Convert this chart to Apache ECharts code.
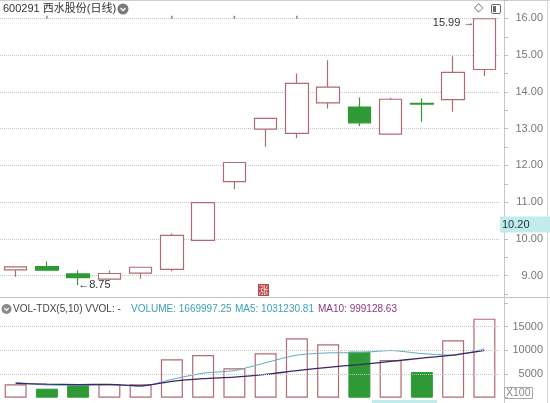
<!DOCTYPE html>
<html><head><meta charset="utf-8">
<script src="https://cdn.jsdelivr.net/npm/echarts@6/dist/echarts.min.js"></script>
<style>html,body{margin:0;padding:0;background:#fff}#c{width:550px;height:403px}</style>
</head><body><div id="c"></div>
<script>
// ---- data ----
const categories = ['d01','d02','d03','d04','d05','d06','d07','d08','d09','d10','d11','d12','d13','d14','d15','d16'];
const openP  = [9.16, 9.25, 9.05, 8.91, 9.07, 9.17, 9.96, 11.56, 12.99, 12.87, 13.70, 13.59, 12.85, 13.69, 13.79, 14.61];
const closeP = [9.24, 9.15, 8.95, 9.06, 9.23, 10.10, 10.99, 12.08, 13.28, 14.23, 14.13, 13.16, 13.80, 13.67, 14.53, 15.99];
const lowP   = [8.97, 9.14, 8.75, 8.90, 8.92, 9.12, 9.95, 11.35, 12.51, 12.74, 13.55, 13.07, 12.84, 13.19, 13.46, 14.43];
const highP  = [9.25, 9.39, 9.14, 9.14, 9.24, 10.15, 11.00, 12.09, 13.30, 14.50, 14.86, 13.85, 13.84, 13.82, 14.97, 15.99];
const volume = [2830, 1900, 2620, 2830, 2830, 8120, 9030, 6210, 9390, 12560, 11290, 9730, 7970, 5430, 12130, 16700];
const ma5    = [3250, 2690, 2630, 2770, 2420, 3870, 5180, 5730, 7390, 8990, 9460, 9520, 9950, 9320, 8990, 10312];
const ma10   = [3040, 2850, 2780, 2800, 2500, 3460, 4020, 4350, 4910, 5730, 6420, 6980, 7660, 8360, 8990, 9991];
const eventIdx = [1, 5, 7, 9];
const eventLevel = 16.03;
const priceMin = 8.5, priceMax = 16.5, priceStep = 0.5;
const priceGridLevels = [9, 10, 11, 12, 13, 14, 15, 16];
const volMin = 0, volMax = 20000, volStep = 5000;
const volGridLevels = [5000, 10000, 15000];
const lastMark = 10.20;
const highLabel = { idx: 15, value: 15.99 };
const lowLabel = { idx: 2, value: 8.75 };

// ---- styling ----
const UP = '#b06a72', DOWN = '#2f9a35';
const FONT = '"Liberation Sans", Arial, "Noto Sans CJK SC", sans-serif';
const CLEAR = 'rgba(0,0,0,0)', GRID = '#c6c6c6';
const gridStyle = { color: GRID, width: 1, type: 'dotted' };

const candleData = categories.map((c, i) => [openP[i], closeP[i], lowP[i], highP[i]]);
const volData = volume.map((v, i) => {
  const down = closeP[i] < openP[i];
  return { value: v, itemStyle: down ? { color: DOWN, borderColor: DOWN, borderWidth: 1 } : { color: '#fff', borderColor: UP, borderWidth: 1.2 } };
});

const chart = echarts.init(document.getElementById('c'), null, { renderer: 'canvas' });
const gridLeft = -3, gridRight = 50;
chart.setOption({
  animation: false,
  backgroundColor: '#fff',
  textStyle: { fontFamily: FONT },
  grid: [
    { left: gridLeft, right: gridRight, top: -0.4, height: 294.5 },
    { left: gridLeft, right: gridRight, top: 303, height: 94.7 }
  ],
  xAxis: [
    { type: 'category', gridIndex: 0, data: categories, boundaryGap: true, axisLine: { show: false }, axisTick: { show: false }, axisLabel: { show: false }, splitLine: { show: false } },
    { type: 'category', gridIndex: 1, data: categories, boundaryGap: true, axisLine: { show: false }, axisTick: { show: false }, axisLabel: { show: false }, splitLine: { show: false } }
  ],
  yAxis: [
    {
      type: 'value', gridIndex: 0, position: 'right', offset: 4,
      min: priceMin, max: priceMax, interval: priceStep, scale: true,
      axisLine: { show: false },
      axisTick: { show: true, length: 4, lineStyle: { color: '#bbb' } },
      axisLabel: {
        color: '#777', fontSize: 11, fontFamily: FONT, align: 'right', margin: 39,
        formatter: v => (Math.abs(v - Math.round(v)) < 1e-9 && v > priceMin && v < priceMax) ? v.toFixed(2) : ''
      },
      splitLine: { show: false }
    },
    {
      type: 'value', gridIndex: 1, position: 'right', offset: 4,
      min: volMin, max: volMax, interval: volStep,
      axisLine: { show: false },
      axisTick: { show: true, length: 4, lineStyle: { color: '#bbb' } },
      axisLabel: {
        color: '#777', fontSize: 11, fontFamily: FONT, align: 'right', margin: 39,
        formatter: v => (v > volMin && v < volMax) ? String(v) : ''
      },
      splitLine: { show: false }
    }
  ],
  series: [
    {
      type: 'candlestick', xAxisIndex: 0, yAxisIndex: 0, data: candleData, barWidth: 23, clip: false,
      itemStyle: { color: '#fff', color0: DOWN, borderColor: UP, borderColor0: DOWN, borderWidth: 1.2 },
      markLine: {
        silent: true, symbol: ['none', 'none'], animation: false, z: 1,
        data: priceGridLevels.map(v => ({ yAxis: v, lineStyle: gridStyle, label: { show: false } })).concat([{
          yAxis: lastMark,
          lineStyle: { color: CLEAR, width: 0.1, type: 'solid' },
          label: { show: true, position: 'end', distance: 0, offset: [0, -7], formatter: lastMark.toFixed(2), backgroundColor: '#c2ebeb', color: '#234', fontSize: 11, fontFamily: FONT, padding: [3, 22, 2, 2] }
        }])
      },
      markPoint: {
        silent: true, symbol: 'circle', symbolSize: 0, animation: false,
        label: { show: true, color: '#333', fontSize: 11, fontFamily: FONT },
        data: [
          { coord: [highLabel.idx, highLabel.value], label: { formatter: highLabel.value.toFixed(2) + ' \u2192', position: 'left', distance: 10, offset: [0, 4] } },
          { coord: [lowLabel.idx, lowLabel.value], label: { formatter: '\u2190' + lowLabel.value.toFixed(2), position: 'right', distance: 0 } }
        ]
      }
    },
    {
      type: 'scatter', xAxisIndex: 0, yAxisIndex: 0, symbol: 'rect', symbolSize: [1.5, 3],
      itemStyle: { color: '#9a4a9a' }, data: eventIdx.map(i => [i, eventLevel]), silent: true
    },
    {
      type: 'bar', xAxisIndex: 1, yAxisIndex: 1, data: volData, barWidth: 22,
      markLine: {
        silent: true, symbol: ['none', 'none'], animation: false,
        data: volGridLevels.map(v => ({ yAxis: v, lineStyle: gridStyle, label: { show: false } }))
      }
    },
    { type: 'line', xAxisIndex: 1, yAxisIndex: 1, data: ma5, symbol: 'none', smooth: 0.25, lineStyle: { color: '#5aabbd', width: 1 }, silent: true },
    { type: 'line', xAxisIndex: 1, yAxisIndex: 1, data: ma10, symbol: 'none', smooth: 0.25, lineStyle: { color: '#3a2766', width: 1.3 }, silent: true }
  ],
  graphic: [
    { type: 'line', silent: true, shape: { x1: 0, y1: 0.5, x2: 550, y2: 0.5 }, style: { stroke: '#cfcfcf', lineWidth: 1 } },
    { type: 'line', silent: true, shape: { x1: 0, y1: 297.5, x2: 550, y2: 297.5 }, style: { stroke: '#c4c4c4', lineWidth: 1 } },
    { type: 'line', silent: true, shape: { x1: 504.5, y1: 0, x2: 504.5, y2: 403 }, style: { stroke: '#c8c8c8', lineWidth: 1 } },
    { type: 'line', silent: true, shape: { x1: 547.5, y1: 0, x2: 547.5, y2: 403 }, style: { stroke: '#d4d4d4', lineWidth: 1 } },
    // title
    { type: 'text', silent: true, left: 3, top: 3, style: { text: '600291 西水股份(日线)', fill: '#333', font: '11px ' + FONT } },
    { type: 'circle', silent: true, shape: { cx: 123, cy: 9, r: 5.5 }, style: { fill: '#7a7a7a' } },
    { type: 'polyline', silent: true, shape: { points: [[120.5, 8], [123, 10.5], [125.5, 8]] }, style: { stroke: '#fff', lineWidth: 1.3, fill: null } },
    // top right icons
    { type: 'text', silent: true, left: 474, top: 2, style: { text: '\u25C7', fill: '#666', font: '12px "DejaVu Sans"' } },
    { type: 'rect', silent: true, shape: { x: 491.5, y: 4.5, width: 9, height: 9, r: 1.5 }, style: { stroke: '#666', fill: '#fff', lineWidth: 1 } },
    { type: 'rect', silent: true, shape: { x: 493, y: 6, width: 3, height: 6 }, style: { fill: '#666' } },
    // rise badge
    { type: 'rect', silent: true, shape: { x: 258, y: 284, width: 11, height: 12 }, style: { fill: '#b8494a' } },
    { type: 'text', silent: true, left: 258.5, top: 285, style: { text: '涨', fill: '#f6d6d6', font: '10px "Noto Sans CJK SC"' } },
    // volume header
    { type: 'circle', silent: true, shape: { cx: 6.5, cy: 309, r: 5 }, style: { fill: '#8a8a8a' } },
    { type: 'polyline', silent: true, shape: { points: [[4.3, 308], [6.5, 310.3], [8.7, 308]] }, style: { stroke: '#fff', lineWidth: 1.2, fill: null } },
    { type: 'text', silent: true, left: 13, top: 304, style: { text: 'VOL-TDX(5,10) VVOL: -', fill: '#444', font: '10px ' + FONT } },
    { type: 'text', silent: true, left: 131, top: 304, style: { text: 'VOLUME: 1669997.25', fill: '#3c9fb4', font: '10px ' + FONT } },
    { type: 'text', silent: true, left: 235, top: 304, style: { text: 'MA5: 1031230.81', fill: '#3c9fb4', font: '10px ' + FONT } },
    { type: 'text', silent: true, left: 318, top: 304, style: { text: 'MA10: 999128.63', fill: '#8e3a80', font: '10px ' + FONT } },
    // unit box
    { type: 'rect', silent: true, shape: { x: 504.5, y: 387.5, width: 28, height: 11 }, style: { stroke: '#aaa', fill: '#fff', lineWidth: 1 } },
    { type: 'text', silent: true, left: 506, top: 387.5, style: { text: 'X100', fill: '#888', font: '10.5px ' + FONT } },
    // bottom cursor strip
    { type: 'rect', silent: true, shape: { x: 372, y: 400, width: 65, height: 3 }, style: { fill: '#c2ebeb' } }
  ]
});
</script>
</body></html>
